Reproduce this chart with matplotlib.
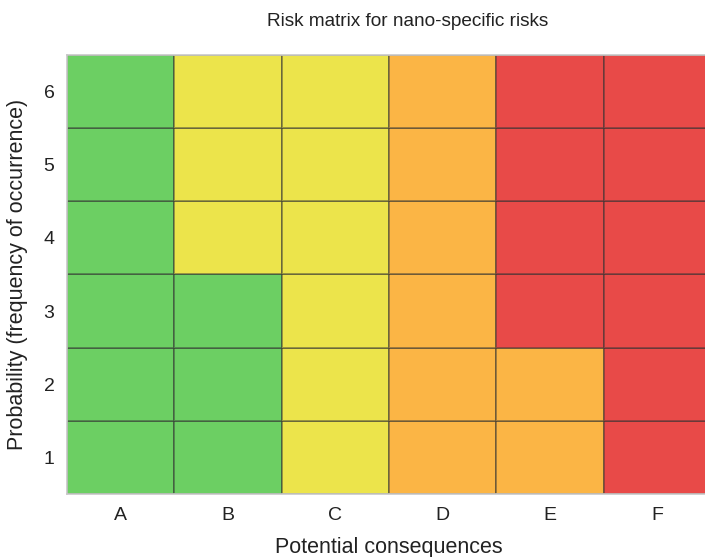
import matplotlib
matplotlib.use("Agg")
import matplotlib.pyplot as plt
import numpy as np
from matplotlib.colors import ListedColormap

plt.rcParams['font.family'] = ['Liberation Sans', 'DejaVu Sans']

consequences = ["A", "B", "C", "D", "E", "F"]
probabilities = [1, 2, 3, 4, 5, 6]
# risk level: 0 green, 1 yellow, 2 orange, 3 red ; rows from probability 1 to 6
risk_rows = [
    [0, 0, 1, 2, 2, 3],  # 1
    [0, 0, 1, 2, 2, 3],  # 2
    [0, 0, 1, 2, 3, 3],  # 3
    [0, 1, 1, 2, 3, 3],  # 4
    [0, 1, 1, 2, 3, 3],  # 5
    [0, 1, 1, 2, 3, 3],  # 6
]
level_colors = ["#6ccf63", "#ece44b", "#fbb545", "#e84a48"]

fig = plt.figure(figsize=(7.05, 5.57), dpi=100)
ax = fig.add_axes([67/705, 1 - 494/557, (711 - 67)/705, 439/557])

Z = np.array(risk_rows)
xe = np.arange(len(consequences) + 1) + 0.5
ye = np.arange(len(probabilities) + 1) + 0.5
ax.pcolormesh(xe, ye, Z, cmap=ListedColormap(level_colors), vmin=-0.5, vmax=3.5,
              edgecolors=(0.2, 0.2, 0.2, 0.45), linewidth=1.3)

ax.set_xlim(0.5, len(consequences) + 0.5)
ax.set_ylim(0.5, len(probabilities) + 0.5)
ax.set_xticks(np.arange(1, len(consequences) + 1))
ax.set_xticklabels(consequences)
ax.set_yticks(probabilities)
ax.set_yticklabels([str(p) for p in probabilities])
ax.tick_params(length=0, labelsize=14, pad=9, colors="#222222")
for s in ax.spines.values():
    s.set_color("#c8c8c8")
    s.set_linewidth(1.2)

ax.set_xlabel("Potential consequences", fontsize=15.5, color="#222222")
ax.xaxis.set_label_coords(((67 + 711) / 2 - 67) / (711 - 67), -(547 - 494) / 439)
ax.xaxis.label.set_va("center")
ax.set_ylabel("Probability (frequency of occurrence)", fontsize=15.5, color="#222222")
ax.yaxis.set_label_coords(-(67 - 18) / (711 - 67), 0.5)
ax.yaxis.label.set_va("center")
fig.text(408 / 705, 1 - 21/557, "Risk matrix for nano-specific risks",
         ha="center", va="center", fontsize=13.7, color="#222222")

fig.savefig("out.png", dpi=100)
